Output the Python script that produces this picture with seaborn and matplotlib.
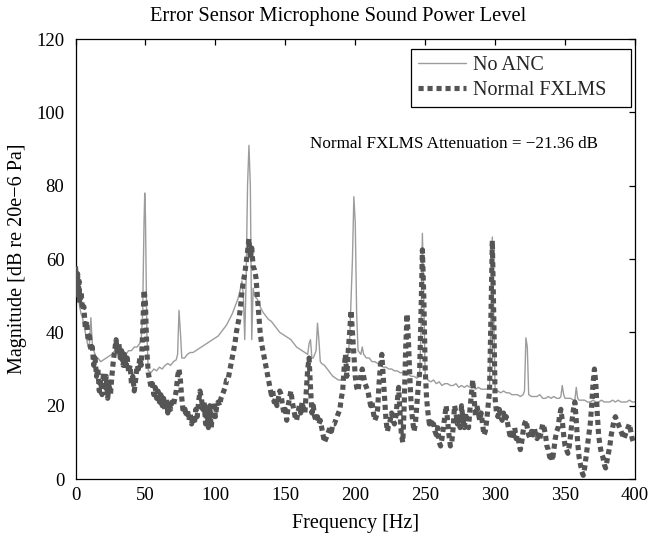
import matplotlib
matplotlib.use("Agg")
import matplotlib.pyplot as plt
import seaborn as sns
import pandas as pd
from matplotlib.lines import Line2D

# ---------------- data ----------------
noanc_freq = [0, 1, 2, 3, 4, 5, 6, 7, 8, 9, 10, 11, 12, 13, 14, 15, 16, 18, 20, 22, 24, 26, 28, 30,
              32, 34, 36, 38, 40, 42, 44, 46, 47, 48, 49, 49.5, 50, 51, 52, 54, 56, 58, 60, 62, 64,
              66, 68, 70, 72, 73, 74, 75, 76, 78, 80, 82, 84, 86, 88, 90, 92, 94, 96, 98, 100, 102,
              104, 106, 108, 110, 112, 114, 116, 118, 119, 120, 121, 122, 123, 124, 125, 126, 127,
              128, 130, 132, 134, 136, 138, 140, 142, 144, 146, 148, 150, 152, 154, 156, 158, 160,
              162, 164, 166, 167, 168, 169, 170, 172, 173, 174, 175, 176, 178, 180, 182, 184, 186,
              188, 190, 192, 194, 196, 198, 199, 200, 201, 202, 204, 205, 206, 208, 210, 212, 214,
              216, 218, 220, 222, 224, 226, 228, 230, 232, 234, 236, 238, 240, 242, 244, 246, 247,
              248, 249, 250, 252, 254, 256, 258, 260, 262, 264, 266, 268, 270, 272, 274, 276, 278,
              280, 282, 284, 286, 288, 290, 292, 294, 296, 297, 298, 299, 300, 302, 304, 306, 308,
              310, 312, 314, 316, 318, 320, 321, 322, 323, 324, 326, 328, 330, 332, 334, 336, 338,
              340, 342, 344, 346, 347, 348, 349, 350, 352, 354, 356, 357, 358, 359, 360, 362, 364,
              366, 368, 370, 372, 374, 376, 378, 380, 382, 384, 386, 388, 390, 392, 394, 396, 398, 400]
noanc_mag = [55, 52, 50, 47, 45, 44, 42, 40, 38, 36, 37, 44, 37, 35, 34, 33, 33, 32, 32.5, 33, 33.5, 34,
             35, 36, 35, 35, 34, 35, 35, 36, 36, 37, 38, 45, 70, 78, 72, 40, 29.5, 29, 30, 29.5, 30.5,
             30, 31, 31.5, 31, 32, 32.5, 34, 46, 40, 33, 33, 34, 34.5, 34.5, 35, 35.5, 36, 36.5, 37,
             37.5, 38, 38.5, 39, 40, 41, 42, 43.5, 45, 47, 49, 52, 54, 50, 38, 55, 80, 91, 80, 38, 52,
             50, 49, 47, 45.5, 44.5, 43.5, 43, 42, 41, 40, 39.5, 39, 38.5, 38, 37, 36, 35.5, 35, 34.5,
             34, 37, 38, 33, 33, 35, 42.5, 38, 32, 31.5, 31, 30, 29, 28, 27.5, 27, 27, 28, 31, 38, 60,
             77, 70, 45, 35, 34, 36, 34, 33, 33, 32, 32, 31.5, 31, 30.5, 30.5, 30, 30, 29.5, 29.5, 29,
             29, 28.5, 28.5, 28, 28, 27.5, 28, 40, 67, 50, 28, 27, 26.5, 27, 26, 26.5, 25.5, 26, 26,
             25.5, 25.5, 26, 25, 25.5, 25, 25.5, 25, 25.5, 24.5, 25, 24.5, 24.5, 24.5, 25, 45, 66, 45,
             24, 24, 23.5, 24, 23.5, 23.5, 23, 23, 23, 22.5, 23, 24, 38.5, 36, 23, 22.5, 22.5, 22.5,
             23, 22, 22, 22.5, 22, 22.5, 22, 22, 22.5, 25.5, 23, 22, 22, 22, 21.5, 21.5, 25, 22, 21.5,
             21.5, 21.5, 21, 21, 21.5, 21, 21, 21.5, 21, 21, 21, 21.5, 21, 21.5, 21, 21, 21, 21.5, 21, 21]

fxlms_freq = [0, 1, 1.5, 2, 2.5, 3, 4, 5] + list(range(6, 401))
fxlms_mag = [58, 52, 56, 50, 54, 48, 51, 46,
             # 6 - 49
             47, 41, 43, 38, 39, 35, 36, 31, 33, 28, 30, 24, 27, 23, 29, 25, 28, 22, 26, 23, 28, 32,
             35, 38, 34, 37, 33, 35, 31, 34, 30, 33, 29, 31, 26, 28, 24, 27, 31, 30, 33, 31, 40, 51.5,
             # 50 - 99
             48, 35, 29, 27, 25, 26, 23, 25, 22, 24, 21, 23, 20, 22, 19, 22, 18, 21, 19, 21, 20, 22,
             24, 28, 30, 27, 22, 18, 20, 17, 19, 16, 18, 15, 17, 15, 19, 17, 21, 24, 22, 19, 21, 15,
             19, 14, 20, 14, 18, 21,
             # 100 - 149
             17, 20, 21, 20, 22, 23, 24, 25, 27, 27, 29, 31, 33, 35, 37, 40, 42, 44, 47, 51, 54, 56,
             59, 62, 65.5, 60, 63, 58, 57, 55, 50, 45, 40, 37, 35, 33, 31, 29, 27, 25, 23, 24, 21, 22,
             20, 22, 24, 23, 20, 18,
             # 150 - 199
             19, 16, 20, 22, 24, 21, 19, 17, 16, 18, 20, 18, 21, 19, 18, 24, 30, 33, 25, 18, 20, 17,
             16, 17, 15, 16, 14, 12, 10, 11, 12, 13, 14, 13, 15, 15, 16, 17, 18, 19, 22, 24, 30, 34,
             28, 35, 40, 46, 40, 34,
             # 200 - 249
             28, 25, 24, 27, 28, 30, 28, 26, 25, 24, 22, 20, 21, 18, 16, 17, 19, 26, 31, 34, 28, 22,
             16, 13, 15, 16, 18, 16, 15, 17, 21, 25, 18, 12, 10, 20, 35, 45, 38, 28, 20, 16, 13, 15,
             20, 25, 29, 45, 62.5, 50,
             # 250 - 299
             30, 22, 18, 15, 16, 14, 15, 13, 12, 14, 10, 9, 11, 14, 17, 20, 16, 12, 9, 10, 14, 20, 18,
             15, 17, 14, 20, 16, 14, 18, 16, 14, 19, 23, 27, 22, 17, 20, 18, 16, 18, 15, 12, 13, 16,
             20, 24, 45, 65, 45,
             # 300 - 349
             22, 18, 17, 19, 17, 16, 18, 16, 17, 15, 13, 11, 13, 12, 14, 11, 12, 10, 8, 10, 13, 15, 16,
             14, 12, 11, 13, 12, 14, 12, 11, 12, 11, 13, 15, 14, 12, 9, 8, 6, 7, 5, 8, 11, 13, 14, 17,
             19, 16, 12,
             # 350 - 400
             9, 8, 7, 9, 12, 16, 19, 21, 16, 10, 6, 4, 2, 1, 3, 6, 9, 12, 15, 20, 26, 30, 26, 18, 12, 9,
             7, 6, 4, 3, 5, 7, 9, 12, 14, 16, 17, 16, 15, 14, 13, 12, 11, 12, 13, 14, 15, 13, 11, 10, 11]

x_ticks = [0, 50, 100, 150, 200, 250, 300, 350, 400]
y_ticks = [0, 20, 40, 60, 80, 100, 120]
series_labels = ["No ANC", "Normal FXLMS"]
title_text = "Error Sensor Microphone Sound Power Level"
xlabel_text = "Frequency [Hz]"
ylabel_text = "Magnitude [dB re 20e\u22126 Pa]"
note_text = "Normal FXLMS Attenuation = \u221221.36 dB"

# ---------------- style ----------------
sns.set_theme(style="white")
plt.rcParams["font.family"] = ["Liberation Serif", "DejaVu Serif"]

gray_col = "#9c9c9c"
dot_col = "#555555"

df_a = pd.DataFrame({"freq": noanc_freq, "mag": noanc_mag})
df_b = pd.DataFrame({"freq": fxlms_freq, "mag": fxlms_mag})

W, H = 649, 533
ax_l, ax_r, ax_t, ax_b = 75.5, 635.0, 39.0, 479.0
fig = plt.figure(figsize=(W / 100, H / 100), dpi=100)
ax = fig.add_axes([ax_l / W, 1 - ax_b / H, (ax_r - ax_l) / W, (ax_b - ax_t) / H])

sns.lineplot(data=df_a, x="freq", y="mag", ax=ax, color=gray_col, linewidth=1.0,
             estimator=None, sort=False, zorder=2)
sns.lineplot(data=df_b, x="freq", y="mag", ax=ax, color=dot_col, linewidth=3.7,
             estimator=None, sort=False, zorder=3)
line_b = ax.get_lines()[-1]
line_b.set_dashes((1.0, 0.75))
line_b.set_dash_capstyle("butt")

ax.set_xlim(0, 400)
ax.set_ylim(0, 120)
ax.set_xticks(x_ticks)
ax.set_yticks(y_ticks)
ax.tick_params(direction="in", top=True, right=True, length=4, width=0.9,
               labelsize=13.5, colors="black")
ax.tick_params(axis="x", pad=6)
ax.tick_params(axis="y", pad=8)
for s in ax.spines.values():
    s.set_visible(True)
    s.set_color("black")
    s.set_linewidth(0.9)

ax.set_xlabel(xlabel_text, fontsize=14.5, color="black", labelpad=7)
ax.set_ylabel(ylabel_text, fontsize=14.5, color="black", labelpad=7)
fig.text(338 / W, 1 - 16 / H, title_text, fontsize=14.8, ha="center", va="center",
         color="black")

ax.text(168, 91.3, note_text, fontsize=12.3, ha="left", va="center", color="black")

h1 = Line2D([], [], color=gray_col, linewidth=1.0)
h2 = Line2D([], [], color=dot_col, linewidth=3.7, dashes=(1.0, 0.75), dash_capstyle="butt")
lx0 = (410.7 - ax_l) / (ax_r - ax_l)
lx1 = (630.7 - ax_l) / (ax_r - ax_l)
ly1 = (ax_b - 49.3) / (ax_b - ax_t)
leg = ax.legend([h1, h2], series_labels, loc="upper left", mode="expand",
                bbox_to_anchor=(lx0, ly1 - 0.2, lx1 - lx0, 0.2), borderaxespad=0,
                fontsize=14.5, frameon=True, fancybox=False, edgecolor="black",
                framealpha=1, handlelength=2.4, handletextpad=0.35, labelspacing=0.25,
                borderpad=0.35)
leg.get_frame().set_linewidth(0.9)

fig.savefig("out.png", dpi=100)
